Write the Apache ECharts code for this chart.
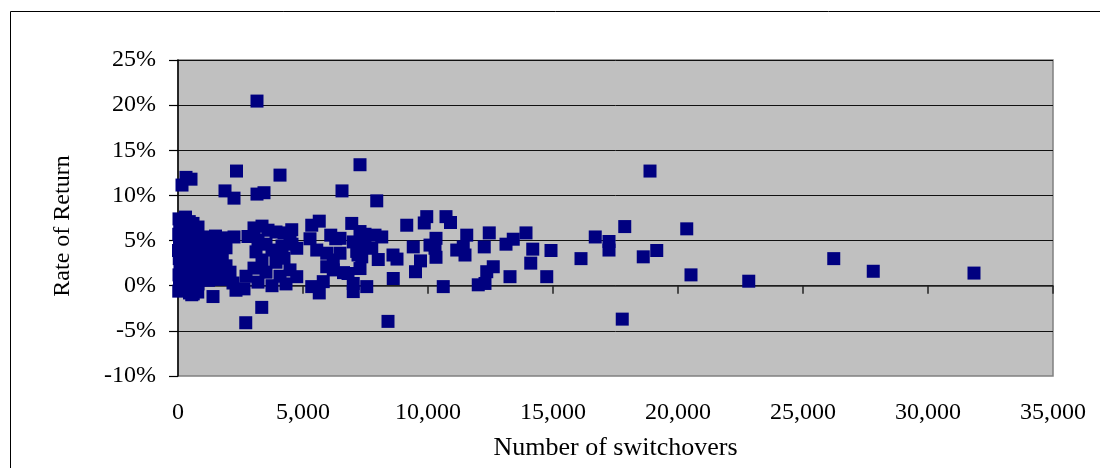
<!DOCTYPE html>
<html>
<head>
<meta charset="utf-8">
<script src="https://cdn.jsdelivr.net/npm/echarts@6/dist/echarts.min.js"></script>
<style>
html,body{margin:0;padding:0;background:#fff;}
#chart{width:1100px;height:468px;}
</style>
</head>
<body>
<div id="chart"></div>
<script>
// [number of switchovers, rate of return (%)]
const nearZeroPoints = [
  [40, 7.4], [70, 6.6], [30, 5.7], [60, 4.8], [20, 3.9], [50, 3.0], [80, 2.1], [40, 1.2], [60, 0.3], [30, -0.6],
  [150, 7.0], [130, 6.1], [170, 5.2], [140, 4.3], [160, 3.4], [120, 2.5], [180, 1.6], [150, 0.7], [140, -0.2],
  [300, 7.6], [280, 6.8], [320, 5.9], [290, 5.0], [310, 4.1], [270, 3.2], [330, 2.3], [300, 1.4], [280, 0.5], [310, -0.5],
  [450, 7.1], [430, 6.4], [470, 5.5], [440, 4.6], [460, 3.6], [420, 2.7], [480, 1.8], [450, 0.9], [430, 0.0], [460, -0.8],
  [600, 6.9], [580, 6.0], [620, 5.1], [590, 4.2], [610, 3.3], [570, 2.4], [630, 1.5], [600, 0.6], [580, -0.3], [610, -0.9],
  [800, 6.5], [780, 5.6], [820, 4.7], [790, 3.8], [810, 2.9], [770, 2.0], [830, 1.1], [800, 0.2], [790, -0.7],
  [1000, 5.4], [980, 4.5], [1020, 3.6], [990, 2.7], [1010, 1.8], [970, 0.9],
  [1250, 5.0], [1230, 4.1], [1270, 3.2], [1240, 2.3], [1260, 1.4], [1220, 0.6],
  [1500, 5.5], [1480, 4.6], [1520, 3.7], [1490, 2.8], [1510, 1.9], [1470, 1.0],
  [1750, 5.3], [1730, 4.4], [1770, 3.5], [1740, 2.6], [1760, 1.7], [1720, 0.7]
];
const lowRangePoints = [
  [2240, 5.4], [2200, 0.3], [2080, 1.5], [2800, 5.45], [3040, 6.4], [3360, 6.6], [3600, 6.15], [3920, 5.95],
  [4240, 5.85], [4480, 5.5], [3200, 5.05], [3520, 4.6], [3120, 3.75], [3760, 3.95], [4160, 4.4], [4560, 4.6],
  [3360, 2.85], [3920, 2.6], [4240, 3.05], [3040, 1.95], [3520, 1.5], [4080, 1.05], [2720, 1.05], [3200, 0.4],
  [3760, 0.0], [4320, 0.2], [2640, -0.35], [1920, 2.2], [1920, 4.2]
];
const midRangePoints = [
  [5650, 7.15], [5350, 6.7], [6950, 6.9], [4550, 6.2], [5280, 5.2], [6110, 5.6], [6310, 5.2], [7280, 6.0],
  [8150, 5.4], [9150, 6.7], [9950, 7.65], [9850, 6.95], [4750, 4.15], [5550, 3.95], [5950, 3.6], [6480, 3.6],
  [6210, 2.85], [7010, 4.85], [7750, 4.15], [8010, 2.9], [8600, 3.4], [8760, 2.95], [9410, 4.3], [9700, 2.75],
  [9500, 1.55], [4480, 1.75], [4750, 1.0], [6210, 1.75], [6620, 1.45], [7280, 1.9], [8610, 0.8], [5810, 0.45],
  [5350, -0.1], [7010, 0.25], [7550, -0.1], [7150, 3.8], [7350, 3.2], [7480, 5.7], [7880, 5.6], [6480, 5.25],
  [7480, 4.4], [7200, 3.4], [5950, 2.1], [6800, 1.35]
];
const upperRangePoints = [
  [10720, 7.65], [10900, 7.0], [11550, 5.6], [12450, 5.85], [10320, 5.25], [10080, 4.5], [10280, 4.15],
  [10320, 3.15], [11150, 3.95], [11410, 4.3], [11480, 3.4], [12250, 4.3], [10610, -0.1], [12350, 1.55],
  [12610, 2.1], [12010, 0.1], [12280, 0.25], [13280, 1.0], [13120, 4.6], [13410, 5.15], [13920, 5.85],
  [14190, 4.05], [14110, 2.5], [14920, 3.9], [14750, 1.0],
  [16120, 3.0], [16690, 5.4], [17240, 4.9], [17240, 3.95], [17870, 6.55], [18610, 3.2], [19150, 3.9],
  [20350, 6.3], [20520, 1.2], [22830, 0.5], [26230, 3.0], [27810, 1.6], [31840, 1.4]
];
const outlierPoints = [
  [160, 11.15], [320, 12.0], [520, 11.8], [2340, 12.7], [1880, 10.5], [2240, 9.7], [3160, 10.15], [3440, 10.3],
  [4080, 12.25], [6560, 10.5], [7280, 13.4], [3160, 20.45], [7950, 9.4], [18880, 12.7],
  [2710, -4.1], [3350, -2.4], [8400, -3.95], [17770, -3.7], [1400, -1.2], [550, -1.0], [5650, -0.8],
  [7010, -0.65], [2320, -0.5]
];
const xTickValues = [0, 5000, 10000, 15000, 20000, 25000, 30000, 35000];
const yTickValues = [-10, -5, 0, 5, 10, 15, 20, 25];

const allPoints = nearZeroPoints.concat(lowRangePoints, midRangePoints, upperRangePoints, outlierPoints);
const serif = "'Liberation Serif', 'Times New Roman', serif";

const chart = echarts.init(document.getElementById('chart'), null, {renderer: 'canvas'});
chart.setOption({
  animation: false,
  backgroundColor: '#ffffff',
  graphic: [{
    type: 'rect', silent: true, z: -10,
    shape: {x: 10.5, y: 11.5, width: 1200, height: 600},
    style: {fill: 'none', stroke: '#000', lineWidth: 1}
  }],
  grid: {
    left: 178, top: 60, right: 47, bottom: 92,
    show: true, backgroundColor: '#C0C0C0', borderColor: '#808080', borderWidth: 1.5
  },
  xAxis: [{
    type: 'value', min: xTickValues[0], max: xTickValues[xTickValues.length - 1], interval: 5000,
    position: 'bottom',
    axisLine: {show: false, onZero: false},
    axisTick: {show: false},
    splitLine: {show: false},
    axisLabel: {
      color: '#000', fontFamily: serif, fontSize: 24, margin: 25,
      formatter: v => v.toLocaleString('en-US')
    },
    name: 'Number of switchovers', nameLocation: 'middle', nameGap: 59,
    nameTextStyle: {color: '#000', fontFamily: serif, fontSize: 26}
  }, {
    type: 'value', min: xTickValues[0], max: xTickValues[xTickValues.length - 1], interval: 5000,
    position: 'top',
    axisLine: {show: true, onZero: true, lineStyle: {color: '#222', width: 1.5}},
    axisTick: {show: true, inside: true, length: 8, lineStyle: {color: '#222', width: 1.5}},
    axisLabel: {show: false},
    splitLine: {show: false}
  }],
  yAxis: {
    type: 'value', min: yTickValues[0], max: yTickValues[yTickValues.length - 1], interval: 5,
    axisLine: {show: true, onZero: false, lineStyle: {color: '#000', width: 1.5}},
    axisTick: {show: true, length: 9, lineStyle: {color: '#000', width: 1.2}},
    splitLine: {show: true, showMinLine: false, lineStyle: {color: '#111', width: 1}},
    axisLabel: {color: '#000', fontFamily: serif, fontSize: 24, margin: 22, formatter: '{value}%'},
    name: 'Rate of Return', nameLocation: 'middle', nameGap: 103,
    nameTextStyle: {color: '#000', fontFamily: serif, fontSize: 24, padding: [0, 16, 0, 0]}
  },
  series: [{
    type: 'scatter',
    xAxisIndex: 0,
    symbol: 'rect',
    symbolSize: 13,
    itemStyle: {color: '#000080', borderWidth: 0, opacity: 1},
    data: allPoints
  }]
});
</script>
</body>
</html>
